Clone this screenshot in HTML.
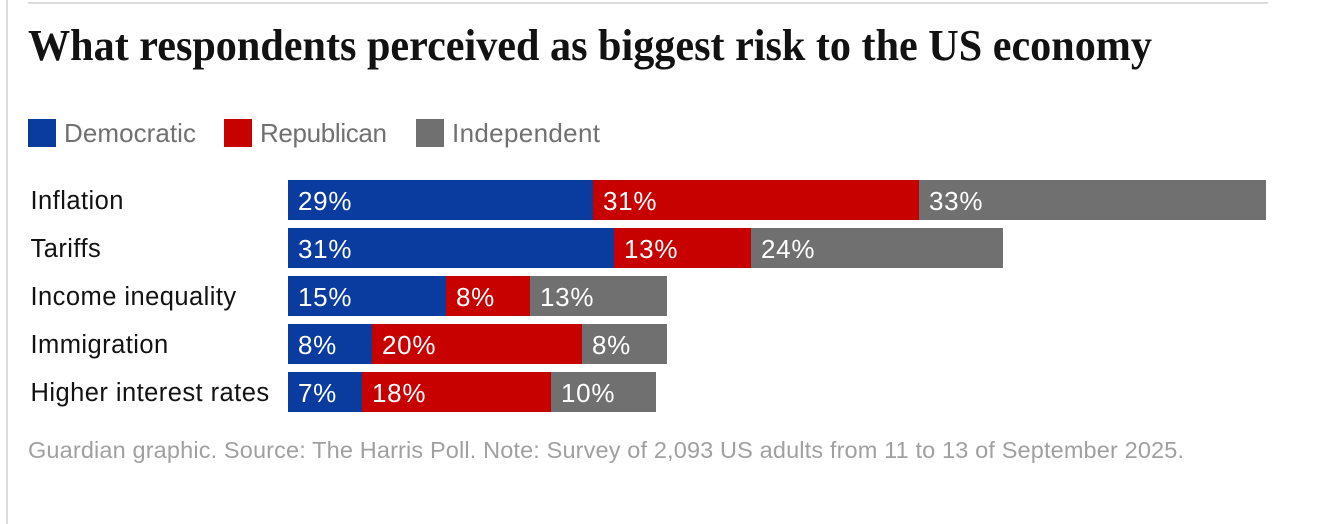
<!DOCTYPE html>
<html lang="en">
<head>
<meta charset="utf-8">
<title>What respondents perceived as biggest risk to the US economy</title>
<style>
html,body{margin:0;padding:0;background:#fff;width:1326px;height:524px;overflow:hidden}
svg{display:block}
text{font-family:"Liberation Sans",Arial,sans-serif}
.title{font-family:"Liberation Serif",Georgia,serif;font-weight:700;font-size:44px;fill:#121212}
.legend{font-size:26px;fill:#707070}
.cat{font-size:25.5px;fill:#121212;letter-spacing:.45px}
.val{font-size:26px;fill:#fff;letter-spacing:.7px}
.foot{font-size:23.5px;fill:#a0a0a0}
rect{shape-rendering:crispEdges}
</style>
</head>
<body>
<svg id="chart" width="1326" height="524" viewBox="0 0 1326 524" xmlns="http://www.w3.org/2000/svg">
  <rect x="6" y="0" width="2" height="524" fill="#dcdcdc"/>
  <rect x="28" y="2" width="1240" height="2" fill="#dcdcdc"/>
  <text class="title" x="28" y="60" textLength="1124" lengthAdjust="spacingAndGlyphs">What respondents perceived as biggest risk to the US economy</text>
  <g>
    <rect x="28" y="119" width="28" height="28" fill="#0a3ca0"/>
    <text class="legend" x="64" y="142" textLength="132" lengthAdjust="spacing">Democratic</text>
    <rect x="224" y="119" width="28" height="28" fill="#c70000"/>
    <text class="legend" x="260" y="142" textLength="127" lengthAdjust="spacing">Republican</text>
    <rect x="416" y="119" width="28" height="28" fill="#707070"/>
    <text class="legend" x="452" y="142" textLength="148" lengthAdjust="spacing">Independent</text>
  </g>
  <g id="bars"></g>
  <text class="foot" x="28" y="458" textLength="1156" lengthAdjust="spacing">Guardian graphic. Source: The Harris Poll. Note: Survey of 2,093 US adults from 11 to 13 of September 2025.</text>
</svg>
<script>
const categories = ["Inflation", "Tariffs", "Income inequality", "Immigration", "Higher interest rates"];
const democratic = [29, 31, 15, 8, 7];
const republican = [31, 13, 8, 20, 18];
const independent = [33, 24, 13, 8, 10];

const NS = "http://www.w3.org/2000/svg";
const root = document.getElementById("bars");
const seriesList = [
  {key: "democratic", values: democratic, color: "#0a3ca0"},
  {key: "republican", values: republican, color: "#c70000"},
  {key: "independent", values: independent, color: "#707070"}
];
const xScale = v => Math.round(288 + v * (978 / 93));
const yScale = i => 180 + i * 48;
const BAR_H = 40;

categories.forEach((cat, i) => {
  const label = document.createElementNS(NS, "text");
  label.setAttribute("class", "cat");
  label.setAttribute("x", 30.5);
  label.setAttribute("y", yScale(i) + 29);
  
  
  label.textContent = cat;
  root.appendChild(label);

  let cum = 0;
  seriesList.forEach(s => {
    const v = s.values[i];
    const x0 = xScale(cum);
    const x1 = xScale(cum + v);
    const rect = document.createElementNS(NS, "rect");
    rect.setAttribute("x", x0);
    rect.setAttribute("y", yScale(i));
    rect.setAttribute("width", x1 - x0);
    rect.setAttribute("height", BAR_H);
    rect.setAttribute("fill", s.color);
    
    
    root.appendChild(rect);

    const val = document.createElementNS(NS, "text");
    val.setAttribute("class", "val");
    val.setAttribute("x", x0 + 10);
    val.setAttribute("y", yScale(i) + 30);
    
    
    val.textContent = v + "%";
    root.appendChild(val);
    cum += v;
  });
});
</script>
</body>
</html>
